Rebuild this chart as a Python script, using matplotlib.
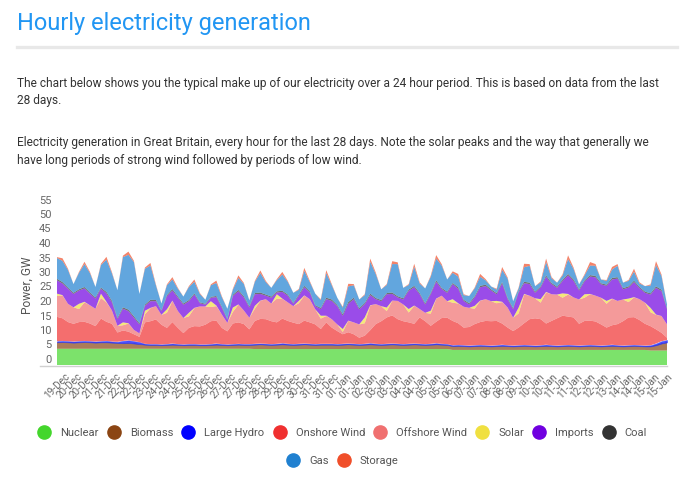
import numpy as np
import pandas as pd
import matplotlib
matplotlib.use('Agg')
import matplotlib.pyplot as plt
from matplotlib.lines import Line2D
from matplotlib.transforms import ScaledTranslation

plt.rcParams['font.family'] = ['Roboto', 'DejaVu Sans']

# Readings every 6 hours, first sample 19-Dec 10:00, values in GW
start = pd.Timestamp('2023-12-19 10:00')
hours = np.arange(0, 672, 6)

nuclear = [
    5.6, 5.6, 5.6, 5.6, 5.6, 5.6, 5.6, 5.6, 5.6, 5.6, 5.6, 5.6, 5.6, 5.6, 5.6, 5.6, 5.6, 5.6, 5.6, 5.6, 5.6, 5.6, 5.6, 5.6, 5.6, 5.6, 5.6, 5.6,
    5.6, 5.6, 5.6, 5.6, 5.6, 5.6, 5.6, 5.6, 5.5, 5.5, 5.5, 5.5, 5.5, 5.5, 5.5, 5.5, 5.5, 5.5, 5.5, 5.5, 5.5, 5.5, 5.5, 5.5, 5.5, 5.5, 5.5, 5.5,
    5.5, 5.5, 5.5, 5.5, 5.5, 5.5, 5.5, 5.5, 5.5, 5.5, 5.5, 5.5, 5.5, 5.5, 5.5, 5.5, 5.2, 5.2, 5.2, 5.2, 5.2, 5.2, 5.2, 5.2, 5.2, 5.2, 5.2, 5.2,
    5.2, 5.2, 5.2, 5.2, 5.2, 5.2, 5.2, 5.2, 5.2, 5.2, 5.2, 5.2, 5.2, 5.2, 5.2, 5.2, 5.2, 5.2, 5.2, 5.2, 5.2, 5.2, 5.2, 5.2, 5.0, 5.0, 5.0, 5.0,
]
biomass = [
    2.2, 2.3, 2.2, 2.1, 2.2, 2.3, 2.2, 2.1, 2.2, 2.2, 2.1, 2.0, 1.9, 2.0, 1.8, 1.6, 1.4, 1.3, 1.3, 1.2, 1.3, 1.4, 1.3, 1.2, 1.3, 1.3, 1.2, 1.2,
    1.3, 1.4, 1.3, 1.2, 1.3, 1.4, 1.3, 1.3, 1.5, 1.6, 1.5, 1.4, 1.5, 1.6, 1.5, 1.4, 1.5, 1.6, 1.5, 1.4, 1.5, 1.5, 1.5, 1.4, 1.5, 1.6, 1.5, 1.4,
    1.5, 1.6, 1.5, 1.4, 1.5, 1.6, 1.5, 1.4, 1.5, 1.6, 1.5, 1.4, 1.5, 1.6, 1.5, 1.4, 1.3, 1.4, 1.3, 1.2, 1.3, 1.4, 1.3, 1.2, 1.3, 1.4, 1.3, 1.2,
    1.3, 1.4, 1.3, 1.2, 1.3, 1.4, 1.3, 1.2, 1.3, 1.4, 1.3, 1.2, 1.3, 1.4, 1.3, 1.2, 1.3, 1.4, 1.3, 1.2, 1.3, 1.4, 1.3, 1.2, 1.4, 1.8, 2.4, 2.8,
]
large_hydro = [
    0.4, 0.4, 0.4, 0.4, 0.4, 0.4, 0.4, 0.4, 0.4, 0.5, 0.4, 0.4, 0.8, 0.9, 0.8, 0.7, 0.3, 0.3, 0.3, 0.3, 0.3, 0.4, 0.3, 0.3, 0.3, 0.3, 0.3, 0.3,
    0.3, 0.4, 0.3, 0.3, 0.3, 0.3, 0.3, 0.3, 0.3, 0.3, 0.3, 0.3, 0.3, 0.4, 0.3, 0.3, 0.3, 0.3, 0.3, 0.3, 0.3, 0.3, 0.3, 0.3, 0.3, 0.3, 0.3, 0.3,
    0.3, 0.4, 0.3, 0.3, 0.3, 0.3, 0.3, 0.3, 0.3, 0.3, 0.3, 0.3, 0.3, 0.4, 0.3, 0.3, 0.3, 0.3, 0.3, 0.3, 0.3, 0.3, 0.3, 0.3, 0.3, 0.4, 0.3, 0.3,
    0.3, 0.3, 0.3, 0.3, 0.3, 0.4, 0.3, 0.3, 0.3, 0.3, 0.3, 0.3, 0.3, 0.3, 0.3, 0.3, 0.3, 0.4, 0.3, 0.3, 0.3, 0.3, 0.3, 0.3, 0.4, 0.6, 0.8, 0.8,
]
onshore_wind = [
    8.4, 7.8, 6.6, 6.1, 6.6, 6.6, 6.1, 5.3, 7.8, 6.6, 6.1, 3.2, 3.6, 3.0, 2.4, 1.8, 7.4, 7.9, 8.5, 6.8, 5.6, 7.4, 5.6, 3.9, 5.6, 6.2, 6.2, 6.8,
    7.9, 7.9, 5.6, 4.5, 7.1, 7.4, 6.9, 5.1, 7.9, 8.5, 8.5, 7.9, 7.4, 8.5, 7.9, 7.4, 6.8, 7.9, 7.4, 6.8, 5.1, 7.4, 5.6, 4.5, 3.3, 3.9, 3.3, 2.2,
    2.8, 4.5, 6.8, 7.9, 9.1, 9.7, 8.5, 7.9, 7.4, 6.8, 9.1, 7.9, 6.2, 7.4, 8.9, 9.1, 8.4, 7.5, 6.1, 6.4, 7.3, 7.9, 8.4, 8.4, 8.4, 7.3, 6.1, 5.0,
    6.1, 7.5, 9.0, 9.4, 9.0, 7.3, 8.4, 9.4, 10.2, 9.8, 9.6, 7.5, 8.4, 8.4, 8.2, 7.3, 6.1, 6.7, 7.3, 8.4, 9.6, 9.6, 8.7, 7.5, 6.6, 4.9, 2.9, 0.8,
]
offshore_wind = [
    7.2, 7.9, 6.3, 5.7, 4.5, 6.7, 6.3, 6.0, 7.1, 6.7, 4.6, 2.3, 1.8, 2.8, 1.5, 1.2, 2.8, 4.5, 4.6, 3.4, 5.2, 7.3, 5.8, 5.2, 4.0, 6.2, 6.9, 6.3,
    4.9, 5.0, 4.6, 2.9, 4.0, 6.1, 4.7, 4.0, 4.2, 6.2, 6.9, 6.1, 8.2, 6.8, 6.4, 5.7, 7.2, 8.6, 8.0, 5.2, 3.6, 2.2, 2.9, 2.3, 0.8, 3.9, 4.1, 4.6,
    4.3, 8.5, 6.9, 5.2, 2.2, 5.0, 6.3, 5.8, 3.4, 6.2, 2.9, 2.9, 4.2, 7.9, 7.7, 5.7, 6.3, 6.8, 7.2, 6.6, 5.3, 7.3, 7.5, 6.9, 6.1, 7.4, 6.9, 4.6,
    4.9, 9.9, 8.1, 6.9, 5.7, 10.7, 9.2, 8.2, 6.2, 7.6, 6.9, 8.4, 8.0, 9.1, 8.9, 9.2, 8.2, 9.1, 8.0, 7.5, 5.3, 6.8, 7.2, 7.3, 4.8, 5.0, 5.8, 4.6,
]
solar = [
    0.8, 0.1, 0, 0, 1.8, 0.2, 0, 0, 1.5, 0.2, 0, 0, 1.0, 0.1, 0, 0, 1.2, 0.1, 0, 0, 1.2, 0.1, 0, 0, 1.2, 0.1, 0, 0,
    2.0, 0.2, 0, 0, 1.5, 0.1, 0, 0, 1.0, 0.1, 0, 0, 1.5, 0.1, 0, 0, 0.8, 0.1, 0, 0, 1.0, 0.1, 0, 0, 1.0, 0.1, 0, 0,
    2.0, 0.1, 0, 0, 1.2, 0.1, 0, 0, 1.2, 0.1, 0, 0, 1.0, 0.1, 0, 0, 1.2, 0.1, 0, 0, 1.0, 0.1, 0, 0, 0.8, 0.1, 0, 0,
    2.0, 0.2, 0, 0, 1.2, 0.2, 0, 0, 1.5, 0.2, 0, 0, 1.2, 0.1, 0, 0, 1.0, 0.1, 0, 0, 1.2, 0.1, 0, 0, 1.5, 0.1, 0, 0,
]
imports = [
    4.6, 4.0, 5.2, 4.6, 4.6, 4.6, 4.0, 3.5, 1.7, 2.9, 2.8, 2.3, 4.7, 4.2, 4.2, 3.1, 1.7, 2.3, 1.7, 1.2, 4.5, 3.5, 4.6, 4.6, 4.0, 4.6, 1.1, 0.6,
    1.2, 2.9, 2.3, 1.1, 4.0, 4.5, 4.5, 3.5, 4.0, 2.3, 1.2, 2.0, 0.6, 2.3, 2.3, 0.8, 1.8, 2.8, 2.3, 1.1, 2.3, 5.7, 6.3, 6.3, 4.6, 5.8, 8.0, 5.2,
    4.6, 3.5, 1.7, 1.7, 4.6, 2.3, 1.2, 1.7, 6.3, 6.3, 5.1, 2.9, 5.7, 5.8, 2.3, 2.9, 5.2, 5.0, 2.0, 1.2, 2.9, 4.6, 4.5, 3.7, 2.3, 6.3, 2.9, 2.9,
    5.2, 3.7, 4.0, 1.9, 4.0, 5.2, 3.5, 2.3, 4.3, 6.4, 5.7, 3.1, 4.4, 6.0, 6.3, 4.6, 5.2, 6.6, 7.7, 3.5, 3.8, 5.2, 3.8, 3.4, 4.6, 9.2, 8.6, 5.2,
]
coal = [
    0.5, 0.5, 0.4, 0.4, 0.4, 0.5, 0.4, 0.4, 0.4, 0.5, 0.5, 0.4, 0.5, 0.5, 0.5, 0.4, 0.4, 0.5, 0.4, 0.3, 0.4, 0.5, 0.4, 0.4, 0.4, 0.4, 0.3, 0.3,
    0.3, 0.4, 0.4, 0.3, 0.4, 0.5, 0.4, 0.4, 0.4, 0.5, 0.4, 0.4, 0.4, 0.4, 0.4, 0.3, 0.4, 0.5, 0.4, 0.3, 0.4, 0.5, 0.5, 0.4, 0.5, 0.6, 0.5, 0.4,
    0.4, 0.5, 0.4, 0.4, 0.4, 0.5, 0.4, 0.4, 0.4, 0.5, 0.4, 0.4, 0.4, 0.5, 0.4, 0.4, 0.4, 0.5, 0.4, 0.4, 0.4, 0.5, 0.5, 0.4, 0.4, 0.5, 0.4, 0.4,
    0.4, 0.5, 0.5, 0.4, 0.4, 0.5, 0.4, 0.4, 0.4, 0.5, 0.5, 0.4, 0.4, 0.5, 0.5, 0.4, 0.4, 0.5, 0.5, 0.4, 0.4, 0.5, 0.4, 0.4, 0.4, 0.5, 0.5, 0.4,
]
gas = [
    7.2, 7.3, 6.1, 3.0, 5.7, 7.9, 6.7, 3.6, 7.8, 11.1, 9.5, 9.6, 17.3, 18.9, 18.7, 10.1, 12.4, 11.8, 5.1, 2.4, 3.4, 3.3, 2.7, 2.4, 4.5, 4.0, 2.9, 1.4,
    4.0, 4.5, 3.3, 3.5, 1.8, 4.1, 4.3, 2.1, 3.9, 6.7, 4.3, 3.0, 3.9, 5.6, 4.4, 3.5, 1.6, 5.2, 3.2, 4.0, 2.7, 8.5, 4.9, 2.5, 2.3, 5.4, 4.3, 3.0,
    2.7, 11.0, 8.3, 3.7, 2.8, 9.8, 11.1, 3.6, 1.6, 6.6, 3.3, 5.1, 5.6, 7.5, 7.7, 4.2, 3.5, 3.7, 1.6, 2.5, 2.7, 3.1, 1.5, 1.0, 1.2, 4.2, 6.7, 2.4,
    1.0, 5.0, 5.8, 1.9, 1.4, 4.6, 1.6, 1.4, 1.5, 5.1, 3.6, 1.7, 1.7, 3.3, 3.5, 1.3, 1.3, 2.9, 3.9, 1.9, 1.9, 3.1, 1.2, 1.9, 2.7, 7.4, 4.7, 1.3,
]
storage = [
    0.3, 0.9, 0.4, 0, 0.3, 0.8, 0.4, 0, 0.4, 1.0, 0.4, 0, 0.5, 1.1, 0.4, 0, 0.4, 0.9, 0.3, 0, 0.3, 0.8, 0.3, 0, 0.3, 0.8, 0.3, 0,
    0.3, 0.8, 0.3, 0, 0.3, 0.9, 0.3, 0, 0.3, 0.9, 0.4, 0, 0.3, 0.9, 0.3, 0, 0.3, 1.0, 0.4, 0, 0.3, 1.0, 0.4, 0, 0.3, 0.9, 0.4, 0,
    0.3, 1.1, 0.5, 0, 0.3, 1.0, 0.6, 0, 0.3, 1.0, 0.4, 0, 0.4, 1.2, 0.5, 0, 0.5, 0.9, 0.3, 0, 0.3, 1.0, 0.4, 0, 0.3, 1.0, 0.4, 0,
    0.3, 1.2, 0.6, 0, 0.3, 1.2, 0.4, 0, 0.4, 1.3, 0.5, 0, 0.4, 1.2, 0.6, 0, 0.3, 0.9, 0.6, 0, 0.3, 1.0, 0.4, 0, 0.4, 1.3, 0.5, 0,
]

labels = ['Nuclear', 'Biomass', 'Large Hydro', 'Onshore Wind', 'Offshore Wind',
          'Solar', 'Imports', 'Coal', 'Gas', 'Storage']
colors = ['#44d62c', '#8b4513', '#0000ff', '#f03030', '#f07070',
          '#f0e040', '#7000e0', '#333333', '#2080d0', '#f04f2a']
series = [nuclear, biomass, large_hydro, onshore_wind, offshore_wind,
          solar, imports, coal, gas, storage]

# x labels: one every 14 hours, like the chart's auto-skipped hourly labels
tick_hours = np.arange(0, hours[-1] + 1, 14)
tick_labels = [(start + pd.Timedelta(hours=int(h))).strftime('%d-%b') for h in tick_hours]

W, H = 680, 484


def fx(px):
    return px / W


def fy(py):
    return 1 - py / H


fig = plt.figure(figsize=(W / 100, H / 100), dpi=100)

# page header
fig.text(fx(17), fy(30), 'Hourly electricity generation', fontsize=17.0,
         color='#2196f3', va='baseline')
fig.add_artist(Line2D([fx(17), fx(677)], [fy(46.5), fy(46.5)], lw=2.4, color='#e8e8e8'))
body = dict(fontsize=8.6, color='#333333', va='baseline')
fig.text(fx(17), fy(87), 'The chart below shows you the typical make up of our electricity over a '
         '24 hour period. This is based on data from the last', **body)
fig.text(fx(17), fy(104), '28 days.', **body)
fig.text(fx(17), fy(146), 'Electricity generation in Great Britain, every hour for the last 28 days. '
         'Note the solar peaks and the way that generally we', **body)
fig.text(fx(17), fy(164), 'have long periods of strong wind followed by periods of low wind.', **body)

# stacked area chart
ax = fig.add_axes([fx(57), fy(365), (667 - 57) / W, (365 - 195) / H])
polys = ax.stackplot(hours, series, colors=colors, alpha=0.7, linewidth=0)
# the hydro band is thin, so give it an outline to show as a line
polys[2].set_edgecolor('#2a44ff')
polys[2].set_linewidth(0.45)

ax.set_xlim(hours[0], hours[-1])
ax.set_ylim(0, 170 / 2.9)
for s in ax.spines.values():
    s.set_visible(False)
fig.add_artist(Line2D([fx(40), fx(667)], [fy(366), fy(366)], lw=1.0, color='#d0d0d0'))

ax.set_yticks(np.arange(0, 56, 5))
ax.tick_params(axis='y', length=0, pad=4, labelsize=8, labelcolor='#666666')
for lab in ax.get_yticklabels():
    lab.set_transform(lab.get_transform() + ScaledTranslation(0, 0.06, fig.dpi_scale_trans))

ax.set_xticks(tick_hours)
ax.set_xticklabels(tick_labels, rotation=45, ha='right', va='center',
                   rotation_mode='anchor', fontsize=7.2, color='#666666')
ax.tick_params(axis='x', length=0, pad=0)
for lab in ax.get_xticklabels():
    lab.set_transform(lab.get_transform() + ScaledTranslation(0.11, -0.10, fig.dpi_scale_trans))

ax.set_ylabel('Power, GW', fontsize=8.6, color='#555555')
ax.yaxis.set_label_coords((33.5 - 57) / 610, (365 - 285) / 170)

# legend, two centred rows
handles = [Line2D([], [], ls='', marker='o', markersize=9.5, markerfacecolor=c,
                  markeredgecolor=c) for c in colors]
leg_kw = dict(loc='center', frameon=False, fontsize=8, handlelength=1.0,
              handletextpad=0.95, columnspacing=0.85, labelcolor='#555555',
              borderaxespad=0, borderpad=0)
fig.legend(handles[:8], labels[:8], bbox_to_anchor=(fx(343), fy(433)), ncol=8, **leg_kw)
fig.legend(handles[8:], labels[8:], bbox_to_anchor=(fx(343), fy(461)), ncol=2, **leg_kw)

fig.savefig('out.png', dpi=100)
